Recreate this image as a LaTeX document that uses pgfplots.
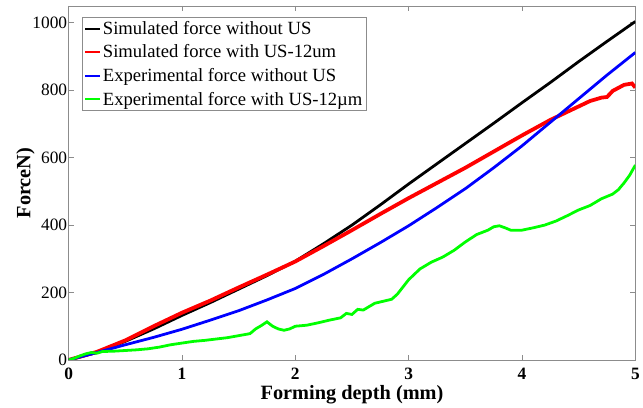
\documentclass[border=0pt]{standalone}
\usepackage{pgfplots}
\pgfplotsset{compat=1.18}
\usepackage{fontspec}
\setmainfont{Liberation Serif}
\begin{document}
\begin{tikzpicture}[x=1bp,y=1bp]
\begin{axis}[
  scale only axis,
  width=570bp, height=356bp,
  xmin=0, xmax=5, ymin=0, ymax=1050,
  xtick={0,1,2,3,4,5},
  ytick={0,200,400,600,800,1000},
  /pgf/number format/assume math mode=true,
  /pgf/number format/1000 sep={},
  tick align=inside,
  major tick length=5bp,
  axis line style={draw=black!45, line width=0.8bp},
  every tick/.style={draw=black!45, line width=0.8bp},
  tick label style={font=\fontsize{17.5}{19}\selectfont},
  yticklabel style={xshift=2bp},
  xticklabel style={font=\fontsize{17.5}{19}\selectfont\bfseries, yshift=-5bp},
  xlabel={\textbf{Forming depth (mm)}},
  ylabel={\textbf{ForceN)}},
  label style={font=\fontsize{20.5}{22}\selectfont},
  xlabel style={at={(axis description cs:0.5,0)}, anchor=center, yshift=-35bp},
  ylabel style={at={(axis description cs:-0.076,0.5)}, anchor=center},
  legend style={at={(0.023,0.969)}, anchor=north west, draw=black!45, line width=0.8bp,
    font=\fontsize{18.8}{20}\selectfont, inner sep=2bp, row sep=5bp,
    /tikz/every even column/.append style={column sep=0bp}},
  legend cell align=left,
  legend image code/.code={\draw[#1, line width=2bp] (0bp,0bp) -- (15bp,0bp);},
]
\addplot[black, line width=2.8bp] coordinates {
(0,0) (0.25,22) (0.5,55) (0.75,92) (1,132) (1.25,170) (1.5,210) (1.75,250) (2,293) (2.25,345) (2.5,400) (2.75,460) (3,522) (3.25,582) (3.5,642) (3.75,702) (4,763) (4.25,823) (4.5,885) (4.75,945) (5,1004)};
\addlegendentry{Simulated force without US}
\addplot[red, line width=3.8bp] coordinates {
(0,0) (0.25,24) (0.5,58) (0.75,100) (1,140) (1.25,176) (1.5,215) (1.75,253) (2,292) (2.25,338) (2.5,385) (2.75,433) (3,480) (3.25,525) (3.5,570) (3.75,618) (4,666) (4.25,712) (4.5,752) (4.6,768) (4.7,778) (4.75,780) (4.8,798) (4.9,816) (4.97,820) (5,808)};
\addlegendentry{Simulated force with US-12um}
\addplot[blue, line width=2.8bp] coordinates {
(0,0) (0.25,22) (0.5,45) (0.75,67) (1,91) (1.25,118) (1.5,146) (1.75,178) (2,212) (2.25,254) (2.5,300) (2.75,348) (3,398) (3.25,452) (3.5,508) (3.75,570) (4,635) (4.25,705) (4.5,775) (4.75,845) (5,912)};
\addlegendentry{Experimental force without US}
\addplot[green, line width=2.8bp] coordinates {
(0,0) (0.05,5) (0.1,12) (0.15,18) (0.2,22) (0.25,20) (0.3,25) (0.4,26) (0.5,28) (0.6,30) (0.7,33) (0.8,38) (0.9,45) (1.0,50) (1.1,55) (1.2,58) (1.3,62) (1.4,66) (1.5,72) (1.6,78) (1.65,92) (1.7,102) (1.75,113) (1.8,100) (1.85,92) (1.9,88) (1.95,92) (2.0,100) (2.1,103) (2.2,110) (2.3,118) (2.4,125) (2.45,138) (2.5,135) (2.55,150) (2.6,148) (2.7,168) (2.8,176) (2.85,180) (2.9,195) (3.0,238) (3.1,270) (3.2,290) (3.3,305) (3.4,325) (3.5,350) (3.6,372) (3.7,385) (3.75,395) (3.8,398) (3.85,392) (3.9,385) (4.0,385) (4.1,392) (4.2,400) (4.3,412) (4.4,428) (4.5,445) (4.6,458) (4.7,478) (4.8,492) (4.85,505) (4.9,525) (4.95,548) (5.0,578)};
\addlegendentry{Experimental force with US-12\textmu m}
\end{axis}
\path[use as bounding box] ([shift={(-69bp,-45bp)}]current axis.south west) rectangle ([shift={(5bp,6bp)}]current axis.north east);
\end{tikzpicture}
\end{document}
